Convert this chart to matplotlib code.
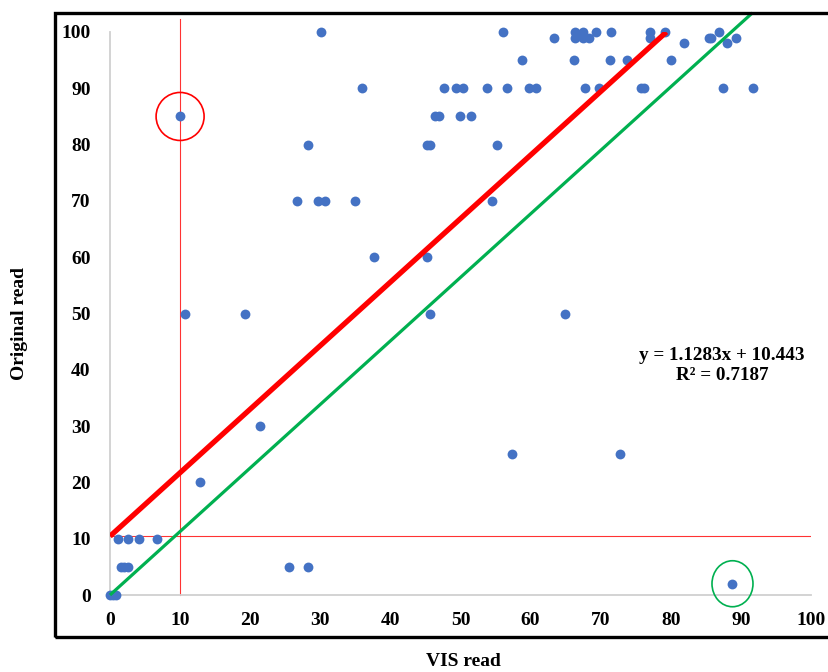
import matplotlib
matplotlib.use("Agg")
import matplotlib.pyplot as plt
from matplotlib.patches import Ellipse, Rectangle

plt.rcParams['font.family'] = ['Liberation Serif', 'DejaVu Serif']

# ---- data ----
vis_read = [
    30.1, 56.1, 66.3, 67.5, 69.4, 71.4, 77.1, 79.2, 86.9,
    63.3, 66.3, 67.0, 67.5, 68.3, 77.1, 85.4, 85.8, 89.3,
    81.9, 88.0,
    58.8, 66.2, 71.3, 73.7, 80.0,
    36.0, 47.6, 49.4, 50.4, 53.8, 56.7, 59.8, 60.7, 67.7, 69.7, 75.8, 76.2, 87.4, 91.7,
    10.0, 46.4, 46.9, 49.9, 51.5,
    28.2, 45.2, 45.6, 55.2,
    26.7, 29.7, 30.7, 35.0, 54.5,
    37.7, 45.2,
    10.7, 19.2, 45.6, 64.9,
    21.4,
    57.4, 72.8,
    12.8,
    1.1, 2.5, 4.1, 6.7,
    1.5, 2.0, 2.6, 25.5, 28.2,
    88.8,
    0.0, 0.4, 0.8,
]
original_read = [
    100, 100, 100, 100, 100, 100, 100, 100, 100,
    99, 99, 99.5, 99, 99, 99, 99, 99, 99,
    98, 98,
    95, 95, 95, 95, 95,
    90, 90, 90, 90, 90, 90, 90, 90, 90, 90, 90, 90, 90, 90,
    85, 85, 85, 85, 85,
    80, 80, 80, 80,
    70, 70, 70, 70, 70,
    60, 60,
    50, 50, 50, 50,
    30,
    25, 25,
    20,
    10, 10, 10, 10,
    5, 5, 5, 5, 5,
    2,
    0, 0, 0,
]

slope = 1.1283
intercept = 10.443
r_squared = 0.7187
x_cut = 10          # vertical reference line
y_cut = 10.5        # horizontal reference line
red_mark = (10, 85)
green_mark = (88.8, 2)
ticks = [0, 10, 20, 30, 40, 50, 60, 70, 80, 90, 100]

# ---- figure ----
W, H = 829, 672
fig = plt.figure(figsize=(W / 100, H / 100), dpi=100)
ax = fig.add_axes([110 / W, (H - 595) / H, (811 - 110) / W, (595 - 32) / H])

# outer chart frame
fig.patches.append(Rectangle((55 / W, (H - 637) / H), (835 - 55) / W, (637 - 13) / H,
                             transform=fig.transFigure, fill=False,
                             edgecolor='black', linewidth=2.4, zorder=0))

ax.set_xlim(0, 100)
ax.set_ylim(0, 100)
for s in ['top', 'right']:
    ax.spines[s].set_visible(False)
for s in ['left', 'bottom']:
    ax.spines[s].set_color('#d0d0d0')
    ax.spines[s].set_linewidth(1.3)
ax.set_xticks(ticks)
ax.set_yticks(ticks)
ax.tick_params(length=0, labelsize=14)
ax.tick_params(axis='x', pad=12)
ax.tick_params(axis='y', pad=14)
for lab in ax.get_xticklabels() + ax.get_yticklabels():
    lab.set_fontweight('bold')

# reference lines
ax.plot([x_cut, x_cut], [0, 102.3], color='#ff0000', lw=0.8, alpha=0.8, clip_on=False, zorder=1)
ax.plot([0, 100], [y_cut, y_cut], color='#ff0000', lw=0.8, alpha=0.8, zorder=1)

# scatter
ax.scatter(vis_read, original_read, s=50, color='#4472C4', zorder=3, clip_on=False, linewidths=0)

# trend line (red) and parallel line through origin (green)
x_end = (100 - intercept) / slope
ax.plot([0, x_end], [intercept, slope * x_end + intercept], color='#ff0000', lw=3.8,
        solid_capstyle='butt', zorder=4)
g_top = 103.4
ax.plot([0, g_top / slope], [0, g_top], color='#00B050', lw=2.3, clip_on=False,
        solid_capstyle='butt', zorder=4)

# highlight marks
ax.add_patch(Ellipse(red_mark, 2 * 24 / 7.01, 2 * 24 / 5.63, fill=False,
                     edgecolor='#ff0000', lw=1.2, zorder=5))
ax.add_patch(Ellipse(green_mark, 2 * 20.5 / 7.01, 2 * 23 / 5.63, fill=False,
                     edgecolor='#00B050', lw=1.2, zorder=5, clip_on=False))

# equation
ax.text(87.3, 40.8, f"y = {slope}x + {intercept}\nR\u00b2 = {r_squared}",
        ha='center', va='center', fontsize=13.8, fontweight='bold', linespacing=1.2)

# axis titles
fig.text(463 / W, 1 - 661 / H, 'VIS read', ha='center', va='center',
         fontsize=14, fontweight='bold')
fig.text(20 / W, 1 - 323 / H, 'Original read', ha='center', va='center',
         rotation=90, fontsize=14, fontweight='bold')

fig.savefig('out.png', dpi=100)
